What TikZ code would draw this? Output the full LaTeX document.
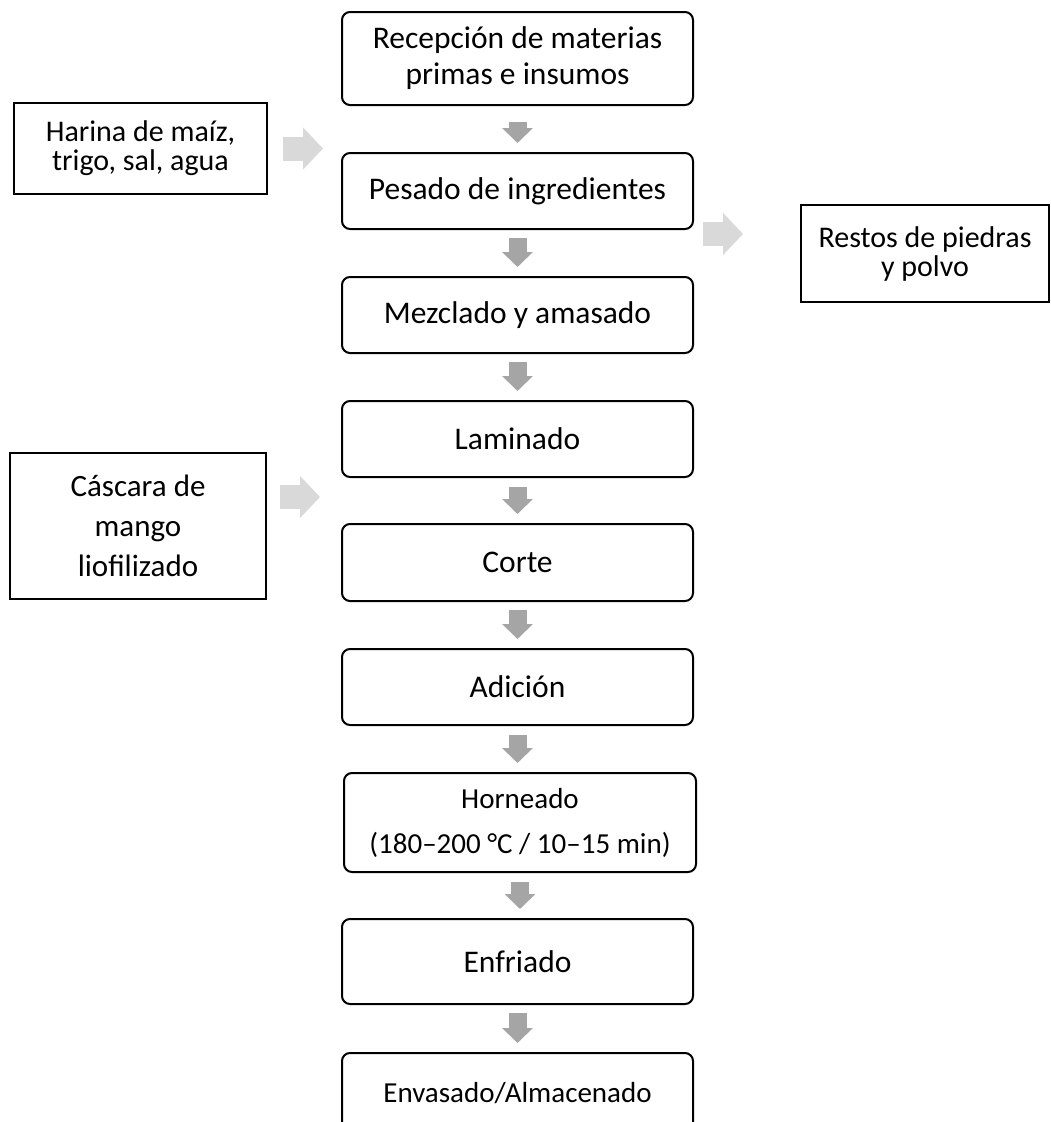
\documentclass[tikz,border=0pt]{standalone}
\usepackage{fontspec}
\setmainfont{Carlito}
\usetikzlibrary{arrows.meta}
\definecolor{arrowdark}{RGB}{165,165,165}
\definecolor{arrowlight}{RGB}{217,217,217}

\begin{document}
\begin{tikzpicture}[x=1pt, y=-1pt,
    proc/.style={draw, line width=2pt, rounded corners=8pt, minimum width=351pt,
        align=center, inner sep=0pt, font=\fontsize{31.5}{36}\selectfont},
    side/.style={draw, line width=2pt, align=center, inner sep=0pt,
        font=\fontsize{30}{29}\selectfont},
    dnarrow/.style={arrowdark, line width=18pt, -{Triangle[width=30pt,length=15pt]}},
    sidearrow/.style={arrowlight, line width=24pt, -{Triangle[width=41pt,length=20pt]}}]
    \useasboundingbox (0,0) rectangle (1051,1122);
    \clip (0,0) rectangle (1051,1122);

    % main column
    \node[proc, minimum height=93pt] (recep) at (517.5,58.5) {Recepción de materias\\primas e insumos};
    \node[proc, minimum height=76pt] (pesado) at (517.5,191) {Pesado de ingredientes};
    \node[proc, minimum height=76pt] (mezcla) at (517.5,315) {Mezclado y amasado};
    \node[proc, minimum height=76pt] (lamin) at (517.5,439) {Laminado};
    \node[proc, minimum height=77pt] (corte) at (517.5,562.5) {Corte};
    \node[proc, minimum height=76pt] (adic) at (517.5,687) {Adición};
    \node[proc, minimum height=99pt, minimum width=352pt, font=\fontsize{29}{45}\selectfont]
        (horno) at (520,822.5) {Horneado\\(180–200 °C / 10–15 min)};
    \node[proc, minimum height=85pt] (enfri) at (517.5,961.5) {Enfriado};
    \node[proc, minimum height=81pt, font=\fontsize{29}{36}\selectfont]
        (envas) at (517.5,1093.5) {Envasado/Almacenado};

    % inputs and outputs
    \node[side, minimum width=253pt, minimum height=91pt] (harina) at (140.5,148.5) {Harina de maíz,\\trigo, sal, agua};
    \node[side, minimum width=256pt, minimum height=146pt, font=\fontsize{31}{40}\selectfont]
        (cascara) at (138,526) {Cáscara de\\mango\\liofilizado};
    \node[side, minimum width=248pt, minimum height=97pt] (restos) at (925,253.5) {Restos de piedras\\y polvo};

    % flow arrows
    \foreach \a/\b/\s in {recep/pesado/16, pesado/mezcla/8, mezcla/lamin/8, lamin/corte/9,
                          corte/adic/8, adic/horno/9, horno/enfri/9, enfri/envas/8}
        \draw[dnarrow] ([yshift=-\s pt]\a.south) -- ([yshift=9pt]\a.south |- \b.north);

    \draw[sidearrow] ([xshift=15pt]harina.east) -- ([xshift=-18pt]harina.east -| pesado.west);
    \draw[sidearrow] ([shift={(13pt,29pt)}]cascara.east) -- ([shift={(-21pt,29pt)}]cascara.east -| lamin.west);
    \draw[sidearrow] ([shift={(9pt,-4pt)}]pesado.south east) -- ([shift={(-57pt,-4pt)}]pesado.south east -| restos.west);
\end{tikzpicture}
\end{document}
